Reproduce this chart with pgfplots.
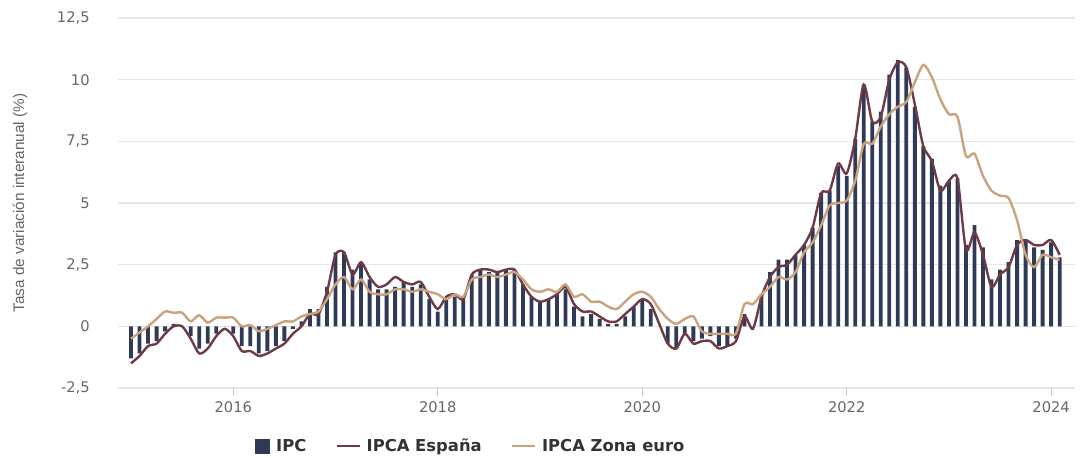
\documentclass[border=0pt]{standalone}
\usepackage{fontspec}
\setmainfont{DejaVu Sans}
\newfontfamily\labfont{Liberation Sans}
\usepackage{pgfplots}
\pgfplotsset{compat=1.18}
\usepackage{pgfplotstable}
\definecolor{barc}{HTML}{2F3A57}
\definecolor{espc}{HTML}{6E3A46}
\definecolor{euroc}{HTML}{C9A27E}
\definecolor{gridc}{HTML}{E6E6E6}
\definecolor{tickc}{HTML}{666666}
\definecolor{tickm}{HTML}{CCCCCC}
\definecolor{legc}{HTML}{333333}

\pgfplotstableread{
m ipc esp euro
0 -1.3 -1.5 -0.5
1 -1.1 -1.2 -0.25
2 -0.7 -0.8 0.0
3 -0.6 -0.7 0.3
4 -0.2 -0.3 0.6
5 0.1 0.0 0.55
6 0.0 0.0 0.55
7 -0.4 -0.5 0.2
8 -0.9 -1.1 0.45
9 -0.7 -0.9 0.15
10 -0.3 -0.4 0.35
11 0.0 -0.1 0.35
12 -0.3 -0.4 0.35
13 -0.8 -1.0 0.0
14 -0.8 -1.0 0.05
15 -1.1 -1.2 -0.2
16 -1.0 -1.1 -0.1
17 -0.8 -0.9 0.05
18 -0.6 -0.7 0.2
19 -0.1 -0.3 0.2
20 0.2 0.0 0.4
21 0.7 0.5 0.5
22 0.7 0.5 0.6
23 1.6 1.4 1.1
24 3.0 2.9 1.7
25 3.0 3.0 2.0
26 2.3 2.1 1.5
27 2.6 2.6 1.9
28 1.9 2.0 1.4
29 1.5 1.6 1.3
30 1.5 1.7 1.3
31 1.6 2.0 1.5
32 1.8 1.8 1.5
33 1.6 1.7 1.4
34 1.7 1.8 1.5
35 1.1 1.2 1.4
36 0.6 0.7 1.3
37 1.1 1.2 1.1
38 1.2 1.3 1.3
39 1.1 1.1 1.2
40 2.1 2.1 1.9
41 2.3 2.3 2.0
42 2.2 2.3 2.1
43 2.2 2.2 2.0
44 2.3 2.3 2.1
45 2.3 2.3 2.2
46 1.7 1.7 1.9
47 1.2 1.2 1.5
48 1.0 1.0 1.4
49 1.1 1.1 1.5
50 1.3 1.3 1.4
51 1.5 1.6 1.7
52 0.8 0.9 1.2
53 0.4 0.6 1.3
54 0.5 0.6 1.0
55 0.3 0.4 1.0
56 0.1 0.2 0.8
57 0.1 0.2 0.7
58 0.4 0.5 1.0
59 0.8 0.8 1.3
60 1.1 1.1 1.4
61 0.7 0.9 1.2
62 0.0 0.1 0.7
63 -0.7 -0.7 0.3
64 -0.9 -0.9 0.1
65 -0.3 -0.3 0.3
66 -0.6 -0.7 0.4
67 -0.5 -0.6 -0.2
68 -0.4 -0.6 -0.3
69 -0.8 -0.9 -0.3
70 -0.8 -0.8 -0.3
71 -0.5 -0.6 -0.3
72 0.5 0.4 0.9
73 0.0 -0.1 0.9
74 1.3 1.2 1.3
75 2.2 2.0 1.6
76 2.7 2.4 2.0
77 2.7 2.5 1.9
78 2.9 2.9 2.2
79 3.3 3.3 3.0
80 4.0 4.0 3.4
81 5.4 5.4 4.1
82 5.5 5.5 4.9
83 6.5 6.6 5.0
84 6.1 6.2 5.1
85 7.6 7.6 5.9
86 9.8 9.8 7.4
87 8.3 8.3 7.4
88 8.7 8.5 8.1
89 10.2 10.0 8.6
90 10.8 10.7 8.9
91 10.5 10.5 9.1
92 8.9 9.0 9.9
93 7.3 7.3 10.6
94 6.8 6.7 10.1
95 5.7 5.5 9.2
96 5.9 5.9 8.6
97 6.0 6.0 8.5
98 3.3 3.1 6.9
99 4.1 3.8 7.0
100 3.2 2.9 6.1
101 1.9 1.6 5.5
102 2.3 2.1 5.3
103 2.6 2.4 5.2
104 3.5 3.3 4.3
105 3.5 3.5 2.9
106 3.2 3.3 2.4
107 3.1 3.3 2.9
108 3.4 3.5 2.8
109 2.8 2.9 2.7
}\data

\begin{document}
\begin{tikzpicture}
\useasboundingbox (0,0) rectangle (810pt,342.75pt);
\begin{axis}[
  at={(88.5pt,51.75pt)}, anchor=south west,
  scale only axis, width=717.75pt, height=277.5pt,
  xmin=-1.53, xmax=110.8, ymin=-2.5, ymax=12.5,
  axis line style={draw=none},
  ytick={-2.5,0,2.5,5,7.5,10,12.5},
  yticklabels={{-2,5},{0},{2,5},{5},{7,5},{10},{12,5}},
  ymajorgrids, grid style={gridc, line width=0.8pt},
  ytick style={draw=none},
  xtick={12,36,60,84,108}, xticklabels={2016,2018,2020,2022,2024},
  xtick pos=bottom,
  xtick style={draw=tickm, line width=0.8pt},
  tick align=outside, major tick length=6pt,
  ticklabel style={font=\fontsize{11}{13}\selectfont, text=tickc},
  yticklabel style={anchor=east, xshift=-11.75pt},
  xticklabel style={yshift=-1pt},
  ylabel={Tasa de variación interanual (\%)},
  ylabel style={at={(axis description cs:-0.1024,0.5)}, anchor=center,
    font=\labfont\fontsize{11.5}{13}\selectfont, text=tickc},
  legend columns=3,
  legend style={at={(0.369,-0.157)}, anchor=center, draw=none, fill=none,
    font=\bfseries\fontsize{12.3}{14}\selectfont, text=legc,
    /tikz/every odd column/.append style={column sep=2.5pt},
    /tikz/every even column/.append style={column sep=20pt}},
]
\addplot[ybar, bar width=0.45, fill=barc, draw=none,
  legend image code/.code={\fill[barc] (0pt,-5.6pt) rectangle (11.25pt,5.6pt);}]
  table[x=m,y=ipc]{\data};
\addlegendentry{IPC}
\addplot[espc, line width=1.8pt, smooth, tension=0.45,
  legend image code/.code={\draw[espc, line width=1.5pt] (0pt,0pt) -- (17.25pt,0pt);}]
  table[x=m,y=esp]{\data};
\addlegendentry{IPCA España}
\addplot[euroc, line width=1.8pt, smooth, tension=0.45,
  legend image code/.code={\draw[euroc, line width=1.5pt] (0pt,0pt) -- (17.25pt,0pt);}]
  table[x=m,y=euro]{\data};
\addlegendentry{IPCA Zona euro}
\end{axis}
\end{tikzpicture}
\end{document}
